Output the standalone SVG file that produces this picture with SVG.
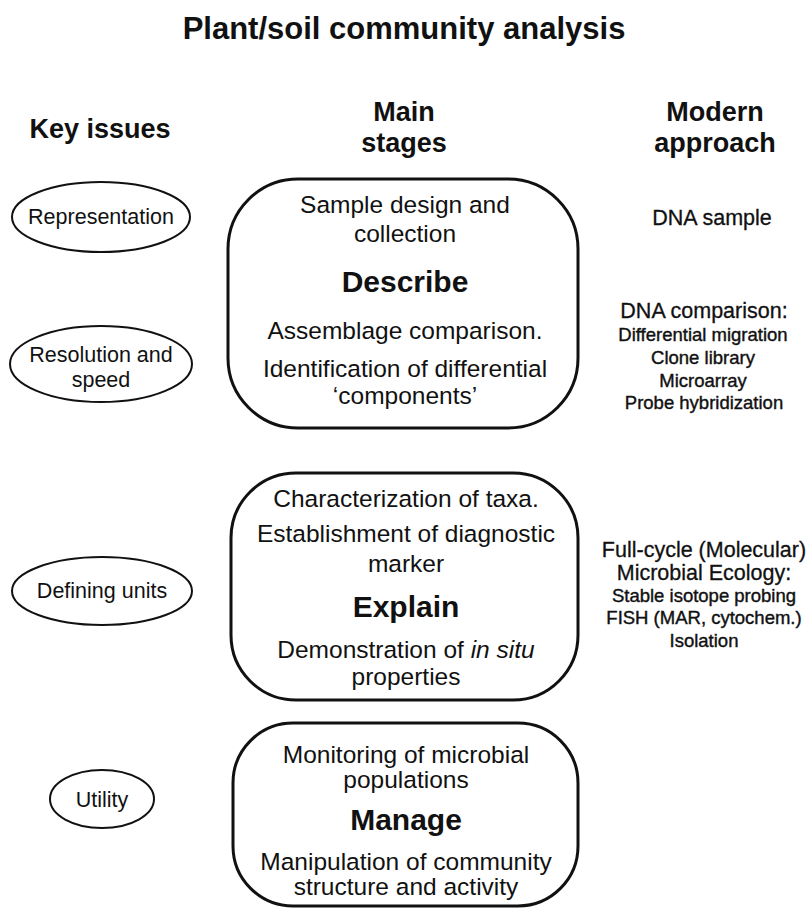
<svg xmlns="http://www.w3.org/2000/svg" width="809" height="909" viewBox="0 0 809 909">
<style>
text{font-family:"Liberation Sans",Arial,Helvetica,sans-serif;fill:#111;text-anchor:middle}
.title{font-size:31px;font-weight:bold}
.head{font-size:27px;font-weight:bold}
.ell{fill:#fff;stroke:#111;stroke-width:2}
.et{font-size:21.5px}
.box{fill:#fff;stroke:#111;stroke-width:3}
.bt{font-size:24.5px}
.bb{font-size:30px;font-weight:bold}
.r1{font-size:21.5px;stroke:#111;stroke-width:0.3}
.r2{font-size:18.5px;stroke:#111;stroke-width:0.4}
</style>
<rect width="809" height="909" fill="#fff"/>
<g id="title"><text class="title" x="404" y="39">Plant/soil community analysis</text></g>
<g id="headers">
<text class="head" x="100" y="138">Key issues</text>
<text class="head" x="404" y="121">Main</text>
<text class="head" x="404" y="152">stages</text>
<text class="head" x="715" y="121">Modern</text>
<text class="head" x="715" y="152">approach</text>
</g>
<g id="representation"><ellipse class="ell" cx="101" cy="217" rx="89" ry="35"/><text class="et" x="101" y="224">Representation</text></g>
<g id="resolution"><ellipse class="ell" cx="101" cy="364" rx="91" ry="38"/><text class="et" x="101" y="362">Resolution and</text><text class="et" x="101" y="387">speed</text></g>
<g id="defining"><ellipse class="ell" cx="102" cy="591" rx="90" ry="34"/><text class="et" x="102" y="598">Defining units</text></g>
<g id="utility"><ellipse class="ell" cx="102" cy="799" rx="52" ry="29"/><text class="et" x="102" y="807">Utility</text></g>
<g id="describe">
<rect class="box" x="228" y="179" width="350" height="249" rx="70" ry="70"/>
<text class="bt" x="405" y="213">Sample design and</text>
<text class="bt" x="405" y="242">collection</text>
<text class="bb" x="405" y="292">Describe</text>
<text class="bt" x="405" y="339">Assemblage comparison.</text>
<text class="bt" x="405" y="377">Identification of differential</text>
<text class="bt" x="405" y="404">‘components’</text>
</g>
<g id="explain">
<rect class="box" x="231" y="473" width="347" height="227" rx="65" ry="65"/>
<text class="bt" x="406" y="507">Characterization of taxa.</text>
<text class="bt" x="406" y="542">Establishment of diagnostic</text>
<text class="bt" x="406" y="572">marker</text>
<text class="bb" x="406" y="617">Explain</text>
<text class="bt" x="406" y="658">Demonstration of <tspan font-style="italic">in situ</tspan></text>
<text class="bt" x="406" y="685">properties</text>
</g>
<g id="manage">
<rect class="box" x="233" y="723" width="345" height="183" rx="60" ry="60"/>
<text class="bt" x="406" y="763">Monitoring of microbial</text>
<text class="bt" x="406" y="788">populations</text>
<text class="bb" x="406" y="830">Manage</text>
<text class="bt" x="406" y="870">Manipulation of community</text>
<text class="bt" x="406" y="895">structure and activity</text>
</g>
<g id="dna-sample"><text class="r1" x="712" y="225">DNA sample</text></g>
<g id="dna-comparison">
<text class="r1" x="704" y="318">DNA comparison:</text>
<text class="r2" x="703" y="341">Differential migration</text>
<text class="r2" x="703" y="364">Clone library</text>
<text class="r2" x="703" y="387">Microarray</text>
<text class="r2" x="704" y="409">Probe hybridization</text>
</g>
<g id="full-cycle">
<text class="r1" x="704" y="557">Full-cycle (Molecular)</text>
<text class="r1" x="704" y="580">Microbial Ecology:</text>
<text class="r2" x="704" y="602">Stable isotope probing</text>
<text class="r2" x="704" y="624">FISH (MAR, cytochem.)</text>
<text class="r2" x="704" y="647">Isolation</text>
</g>
</svg>
